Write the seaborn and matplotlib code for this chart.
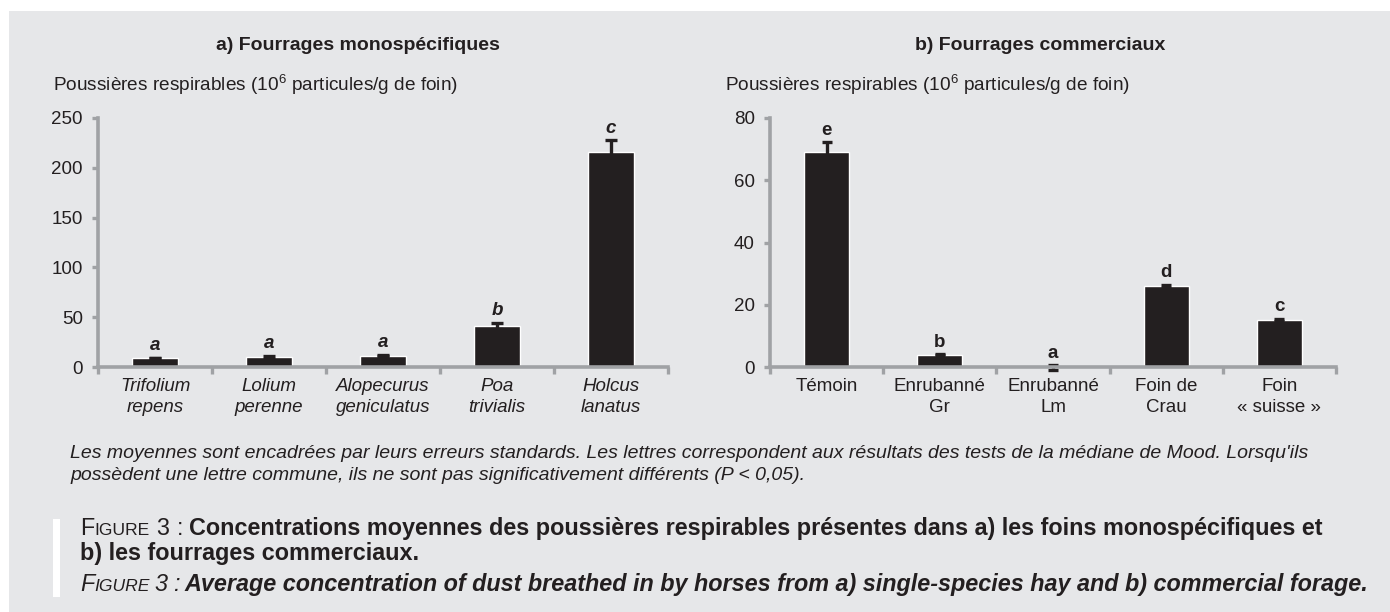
import numpy as np
import pandas as pd
import matplotlib
matplotlib.use('Agg')
import matplotlib.pyplot as plt
import seaborn as sns
from matplotlib.patches import Rectangle

# a) Fourrages monospécifiques
mono_labels = ['Trifolium\nrepens', 'Lolium\nperenne', 'Alopecurus\ngeniculatus',
               'Poa\ntrivialis', 'Holcus\nlanatus']
mono_means = [9.1, 9.7, 11.4, 41.6, 215.8]
mono_se = [0.3, 1.7, 0.7, 3.0, 11.7]
mono_letters = ['a', 'a', 'a', 'b', 'c']

# b) Fourrages commerciaux
comm_labels = ['Témoin', 'Enrubanné\nGr', 'Enrubanné\nLm', 'Foin de\nCrau', 'Foin\n« suisse »']
comm_means = [69.0, 3.9, -0.3, 26.0, 15.1]
comm_se = [3.2, 0.2, 0.8, 0.5, 0.4]
comm_letters = ['e', 'b', 'a', 'd', 'c']

mono_ticks = [0, 50, 100, 150, 200, 250]
comm_ticks = [0, 20, 40, 60, 80]

W, H = 1390, 612
BG = '#e6e7e9'
INK = '#231f20'
AXIS = '#a0a2a5'

sns.set_theme(style='white')
plt.rcParams['font.family'] = ['Liberation Sans', 'DejaVu Sans']
plt.rcParams['mathtext.default'] = 'regular'

fig = plt.figure(figsize=(W / 100, H / 100), dpi=100)
fig.patch.set_facecolor('white')
fig.add_artist(Rectangle((9 / W, 0), 1 - 9 / W, 1 - 11 / H, transform=fig.transFigure,
                         facecolor=BG, edgecolor='none', zorder=0))
fig.add_artist(Rectangle((53 / W, 1 - 597 / H), 7 / W, 78 / H, transform=fig.transFigure,
                         facecolor='white', edgecolor='none', zorder=1))


def px(x, y):
    return x / W, 1 - y / H


def draw_panel(rect, labels, means, se, letters, ticks, italic_labels, cap):
    ax = fig.add_axes(rect)
    ax.set_facecolor('none')
    df = pd.DataFrame({'cat': labels, 'val': means})
    sns.barplot(data=df, x='cat', y='val', color=INK, width=0.4, errorbar=None,
                saturation=1, ax=ax)
    eb = ax.errorbar(np.arange(len(means)), means, yerr=se, fmt='none', ecolor=INK,
                     elinewidth=2.4, capsize=cap, capthick=2.4, zorder=2)
    for art in eb.lines[1] + eb.lines[2]:
        art.set_clip_on(False)
    ax.set_xlim(-0.5, len(means) - 0.5)
    ax.set_ylim(ticks[0], ticks[-1])
    ax.set_yticks(ticks)
    ax.set_xlabel('')
    ax.set_ylabel('')
    sns.despine(ax=ax)
    for side in ['left', 'bottom']:
        ax.spines[side].set_color(AXIS)
        ax.spines[side].set_linewidth(2.6)
        ax.spines[side].set_zorder(3)
    ax.tick_params(axis='y', direction='out', length=4, width=2.4, color=AXIS,
                   labelsize=13.5, labelcolor=INK, pad=7, left=True)
    ax.set_xticks(np.arange(-0.5, len(means)), minor=True)
    ax.tick_params(axis='x', which='minor', direction='out', length=5, width=2.4,
                   color=AXIS, bottom=True)
    ax.tick_params(axis='x', which='major', length=0, labelsize=13.5,
                   labelcolor=INK, pad=8)
    ax.set_xticks(np.arange(len(means)))
    ax.set_xticklabels(labels, style='italic' if italic_labels else 'normal',
                       linespacing=1.3)
    for i, (m, s, let) in enumerate(zip(means, se, letters)):
        ax.annotate(let, (i, max(m + s, 0)), xytext=(0, 2.5), textcoords='offset points',
                    ha='center', va='bottom', fontsize=13.5, fontweight='bold',
                    style='italic' if italic_labels else 'normal', color=INK)
    return ax


ax1 = draw_panel([98 / W, 1 - 367 / H, 570 / W, 249 / H], mono_labels, mono_means,
                 mono_se, mono_letters, mono_ticks, True, 4.3)
ax2 = draw_panel([770 / W, 1 - 367 / H, 566 / W, 249 / H], comm_labels, comm_means,
                 comm_se, comm_letters, comm_ticks, False, 3.5)

fig.text(*px(358, 45), 'a) Fourrages monospécifiques', ha='center', va='center',
         fontsize=14, fontweight='bold', color=INK)
fig.text(*px(1040, 45), 'b) Fourrages commerciaux', ha='center', va='center',
         fontsize=14, fontweight='bold', color=INK)
ylab = 'Poussières respirables (10$^{6}$ particules/g de foin)'
fig.text(*px(53, 91), ylab, ha='left', va='baseline', fontsize=13.7, color=INK)
fig.text(*px(725, 91), ylab, ha='left', va='baseline', fontsize=13.7, color=INK)

note1 = ("Les moyennes sont encadrées par leurs erreurs standards. Les lettres correspondent "
         "aux résultats des tests de la médiane de Mood. Lorsqu'ils")
note2 = "possèdent une lettre commune, ils ne sont pas significativement différents (P < 0,05)."
fig.text(*px(70, 458), note1, ha='left', va='baseline', fontsize=14, style='italic', color=INK)
fig.text(*px(70, 480), note2, ha='left', va='baseline', fontsize=14, style='italic', color=INK)

renderer = fig.canvas.get_renderer()


def write_runs(x, y, runs):
    # runs: (text, size, weight, style, gap in px after)
    for txt, size, weight, style, gap in runs:
        t = fig.text(*px(x, y), txt, ha='left', va='baseline', fontsize=size,
                     fontweight=weight, style=style, color=INK)
        bb = t.get_window_extent(renderer)
        x = bb.x1 + gap


CAP = 16.8
SC = 12.6
write_runs(80, 535, [('F', CAP, 'normal', 'normal', 0), ('IGURE', SC, 'normal', 'normal', 7),
                     ('3', CAP, 'normal', 'normal', 7), (':', CAP, 'normal', 'normal', 6),
                     ('Concentrations moyennes des poussières respirables présentes dans a) '
                      'les foins monospécifiques et', CAP, 'bold', 'normal', 0)])
write_runs(80, 560, [('b) les fourrages commerciaux.', CAP, 'bold', 'normal', 0)])
write_runs(80, 591, [('F', CAP, 'normal', 'italic', 0), ('IGURE', SC, 'normal', 'italic', 5),
                     ('3', CAP, 'normal', 'italic', 5), (':', CAP, 'normal', 'italic', 5),
                     ('Average concentration of dust breathed in by horses from a) '
                      'single-species hay and b) commercial forage.', CAP, 'bold', 'italic', 0)])

fig.savefig('out.png', dpi=100, facecolor=fig.get_facecolor())
